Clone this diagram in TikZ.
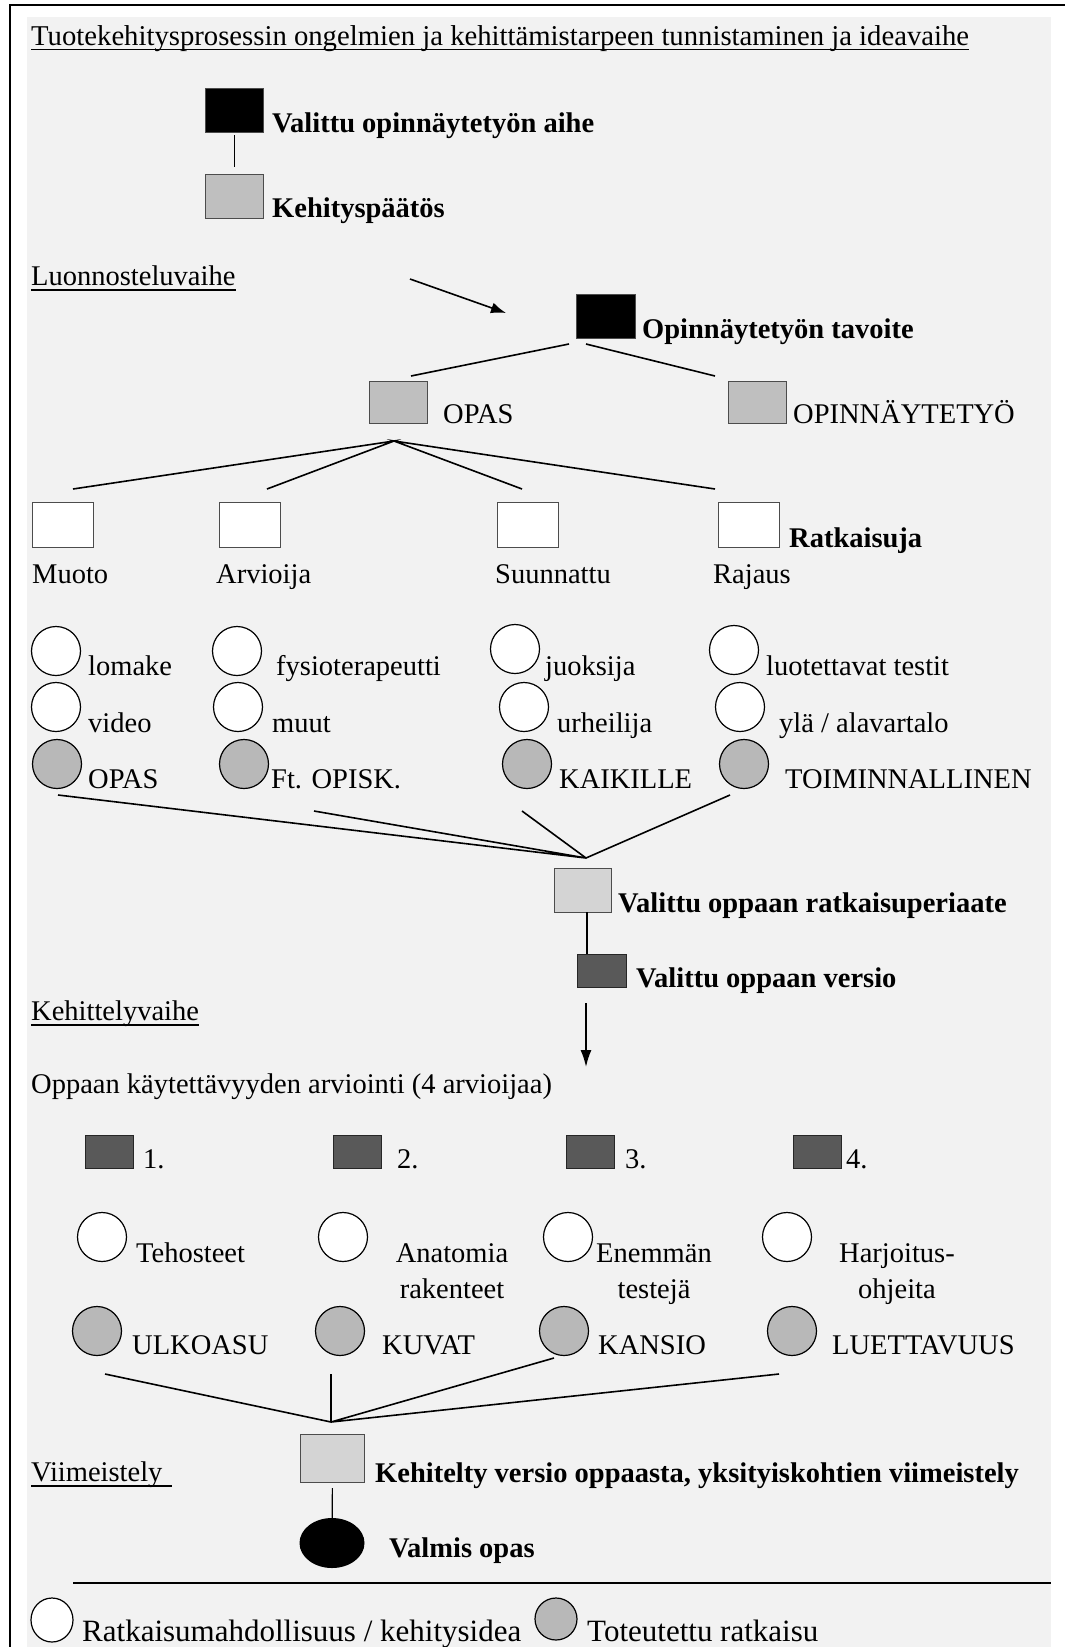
\documentclass[tikz,border=0pt]{standalone}
\usepackage{fontspec}
\setmainfont{Liberation Serif}
\usetikzlibrary{arrows.meta,shapes.geometric}

\begin{document}
\begin{tikzpicture}[x=1pt,y=-1pt,>={Latex[length=15pt,width=11pt]},
		font=\fontsize{28.5}{36}\selectfont,
		box/.style={draw=black!70,line width=1.2pt,inner sep=0pt,anchor=north west,minimum width=58pt,minimum height=44pt},
		blackbox/.style={box,fill=black},
		hatchbox/.style={box,fill=black!25},
		dotbox/.style={box,fill=black!17},
		darkbox/.style={box,fill=black!65,draw=black!85,minimum width=48pt,minimum height=33pt},
		whitebox/.style={box,fill=white,minimum width=61pt,minimum height=45pt},
		idea/.style={circle,draw=black,line width=1.2pt,fill=white,minimum size=49pt,inner sep=0pt},
		done/.style={idea,fill=black!28},
		txt/.style={anchor=base west,inner sep=0pt},
		btxt/.style={txt,font=\fontsize{28.5}{36}\selectfont\bfseries},
		twoline/.style={anchor=base,inner sep=0pt,align=center},
		link/.style={line width=1.6pt},
		uline/.style={line width=1.8pt}]
			\fill[white] (0,0) rectangle (1065,1647);
			\useasboundingbox (0,0) rectangle (1065,1647);
			\fill[black!5] (27,17) rectangle (1051,1647);
			\draw[line width=2pt] (10,1647) -- (10,5) -- (1065,5);
			% ideavaihe
			\node[txt,font=\fontsize{28.7}{36}\selectfont] (otsikko) at (31,45) {Tuotekehitysprosessin ongelmien ja kehittämistarpeen tunnistaminen ja ideavaihe};
			\draw[uline] ([yshift=-4.5pt]otsikko.base west) -- ([yshift=-4.5pt]otsikko.base east);
			\node[blackbox] (aihe) at (205,88) {};
			\node[btxt] at (272,132) {Valittu opinnäytetyön aihe};
			\node[hatchbox] (paatos) at (205,174) {};
			\node[btxt] at (272,217) {Kehityspäätös};
			\draw[line width=1.2pt,shorten <=2pt,shorten >=7pt] (aihe) -- (paatos);
			% luonnosteluvaihe
			\node[txt] (luonnos) at (31,285) {Luonnosteluvaihe};
			\draw[uline] ([yshift=-5pt]luonnos.base west) -- ([yshift=-5pt]luonnos.base east);
			\coordinate (nuolialku) at (410,279);
			\coordinate (nuolikarki) at (506,313);
			\draw[->,link] (nuolialku) -- (nuolikarki);
			\node[blackbox,minimum width=59pt] (tavoite) at (576,294) {};
			\node[btxt] at (642,338) {Opinnäytetyön tavoite};
			\node[hatchbox,minimum height=42pt] (opas) at (369,381) {};
			\node[txt] at (443,423) {OPAS};
			\node[hatchbox,minimum height=42pt] (opinn) at (728,381) {};
			\node[txt] at (793,423) {OPINNÄYTETYÖ};
			\coordinate (t1) at (569,344);
			\coordinate (t2) at (586,344);
			\coordinate (t3) at (411,376);
			\coordinate (t4) at (715,376);
			\draw[link] (t1) -- (t3) (t2) -- (t4);
			\coordinate (o0) at (394,441);
			\coordinate (o1) at (73,489);
			\coordinate (o2) at (267,489);
			\coordinate (o3) at (522,489);
			\coordinate (o4) at (715,489);
			\draw[link] (o1) -- (o0) -- (o2) (o3) -- (o0) -- (o4);
			\node[whitebox] (muoto) at (32,502) {};
			\node[whitebox] (arvioija) at (219,502) {};
			\node[whitebox] (suunnattu) at (497,502) {};
			\node[whitebox] (rajaus) at (718,502) {};
			\node[btxt] at (789,547) {Ratkaisuja};
			\node[txt] at (32,583) {Muoto};
			\node[txt] at (216,583) {Arvioija};
			\node[txt] at (495,583) {Suunnattu};
			\node[txt] at (713,583) {Rajaus};
			\node[idea] (lomake) at (56,651) {};
			\node[txt] at (88,675) {lomake};
			\node[idea] (fysio) at (237,651) {};
			\node[txt] at (276,675) {fysioterapeutti};
			\node[idea] (juoksija) at (515,649) {};
			\node[txt] at (545,675) {juoksija};
			\node[idea] (testit) at (734,650) {};
			\node[txt] at (766,675) {luotettavat testit};
			\node[idea] (video) at (56,707) {};
			\node[txt] at (88,732) {video};
			\node[idea] (muut) at (238,707) {};
			\node[txt] at (272,732) {muut};
			\node[idea] (urheilija) at (524,707) {};
			\node[txt] at (557,732) {urheilija};
			\node[idea] (ylaala) at (740,707) {};
			\node[txt] at (779,732) {ylä / alavartalo};
			\node[done] (opasratk) at (57,764) {};
			\node[txt] at (88,788) {OPAS};
			\node[done] (ftopisk) at (244,764) {};
			\node[txt] at (271,788) {Ft. OPISK.};
			\node[done] (kaikille) at (527,764) {};
			\node[txt] at (559,788) {KAIKILLE};
			\node[done] (toiminnallinen) at (744,764) {};
			\node[txt] at (785,788) {TOIMINNALLINEN};
			\coordinate (p0) at (586,858);
			\coordinate (p1) at (58,795);
			\coordinate (p2) at (314,811);
			\coordinate (p3) at (522,811);
			\coordinate (p4) at (730,795);
			\draw[link] (p1) -- (p0) -- (p2) (p3) -- (p0) -- (p4);
			\node[dotbox,minimum width=57pt] (periaate) at (554,868) {};
			\node[btxt] at (618,912) {Valittu oppaan ratkaisuperiaate};
			\node[darkbox,minimum width=49pt] (versio) at (577,954) {};
			\node[btxt] at (636,987) {Valittu oppaan versio};
			\coordinate (v1) at (587,912);
			\coordinate (v2) at (587,954);
			\draw[line width=1.2pt] (v1) -- (v2);
			% kehittelyvaihe
			\node[txt] (kehittely) at (31,1020) {Kehittelyvaihe};
			\draw[uline] ([yshift=-5pt]kehittely.base west) -- ([yshift=-5pt]kehittely.base east);
			\coordinate (a1) at (586,1003);
			\coordinate (a2) at (586,1067);
			\draw[-{Latex[length=17pt,width=11pt]},link] (a1) -- (a2);
			\node[txt] (arviointi) at (31,1093) {Oppaan käytettävyyden arviointi (4 arvioijaa)};
			\node[darkbox] (arv1) at (85,1135) {};
			\node[txt] at (143,1168) {1.};
			\node[darkbox] (arv2) at (333,1135) {};
			\node[txt] at (397,1168) {2.};
			\node[darkbox] (arv3) at (566,1135) {};
			\node[txt] at (625,1168) {3.};
			\node[darkbox] (arv4) at (793,1135) {};
			\node[txt] at (846,1168) {4.};
			\node[idea] (tehosteet) at (102,1237) {};
			\node[txt] at (136,1262) {Tehosteet};
			\node[idea] (anatomia) at (343,1237) {};
			\node[twoline] at (452,1298) {Anatomia\\rakenteet};
			\node[idea] (enemman) at (568,1237) {};
			\node[twoline] at (654,1298) {Enemmän\\testejä};
			\node[idea] (harjoitus) at (787,1237) {};
			\node[twoline] at (897,1298) {Harjoitus-\\ohjeita};
			\node[done] (ulkoasu) at (97,1331) {};
			\node[txt] at (132,1354) {ULKOASU};
			\node[done] (kuvat) at (340,1331) {};
			\node[txt] at (382,1354) {KUVAT};
			\node[done] (kansio) at (564,1331) {};
			\node[txt] at (598,1354) {KANSIO};
			\node[done] (luettavuus) at (792,1331) {};
			\node[txt] at (832,1354) {LUETTAVUUS};
			\coordinate (k0) at (331,1422);
			\coordinate (k1) at (105,1374);
			\coordinate (k2) at (331,1374);
			\coordinate (k3) at (554,1358);
			\coordinate (k4) at (779,1374);
			\draw[link] (k1) -- (k0) -- (k2) (k3) -- (k0) -- (k4);
			% viimeistely
			\node[txt] (viim) at (31,1481) {Viimeistely};
			\draw[uline] ([yshift=-5pt]viim.base west) -- ([yshift=-5pt,xshift=9pt]viim.base east);
			\node[dotbox,minimum width=64pt,minimum height=48pt] (kehitelty) at (300,1434) {};
			\node[btxt] at (375,1482) {Kehitelty versio oppaasta, yksityiskohtien viimeistely};
			\node[ellipse,fill=black,minimum width=65pt,minimum height=50pt,inner sep=0pt] (valmis) at (332,1543) {};
			\node[btxt] at (389,1557) {Valmis opas};
			\draw[line width=1.2pt,shorten <=5pt] (kehitelty) -- (valmis);
			% selite
			\draw[line width=2.5pt] (73,1583) -- (1051,1583);
			\node[ellipse,draw=black,line width=1.2pt,fill=white,minimum width=42pt,minimum height=44pt,inner sep=0pt] (selite1) at (52,1620) {};
			\node[txt,font=\fontsize{31}{38}\selectfont] at (82,1641) {Ratkaisumahdollisuus / kehitysidea};
			\node[ellipse,draw=black,line width=1.2pt,fill=black!28,minimum width=42pt,minimum height=42pt,inner sep=0pt] (selite2) at (556,1619) {};
			\node[txt,font=\fontsize{31}{38}\selectfont] at (587,1641) {Toteutettu ratkaisu};
	\end{tikzpicture}
\end{document}
